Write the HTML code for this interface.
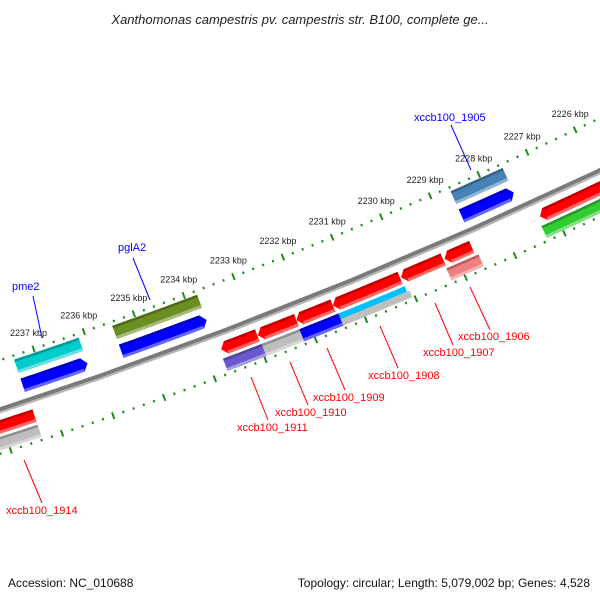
<!DOCTYPE html>
<html><head><meta charset="utf-8"><style>
html,body{margin:0;padding:0;background:#fff;}
svg{display:block;font-family:"Liberation Sans",sans-serif;}
</style></head><body>
<svg id="map" width="600" height="600" viewBox="0 0 600 600">
<rect width="600" height="600" fill="#fff"/>
<text x="300" y="24" text-anchor="middle" font-size="13" font-style="italic" fill="#222">Xanthomonas campestris pv. campestris str. B100, complete ge...</text>
<g id="ticks"></g>
<g id="backbone"></g>
<g id="features"></g>
<g id="labels"></g>
<text x="8" y="587" font-size="12" fill="#111">Accession: NC_010688</text>
<text x="590" y="587" text-anchor="end" font-size="12" fill="#111">Topology: circular; Length: 5,079,002 bp; Genes: 4,528</text>
</svg>
<script>
// ---- data ----
const tickKbp = [2222,2223,2224,2225,2226,2227,2228,2229,2230,2231,2232,2233,2234,2235,2236,2237,2238,2239,2240];
const labelKbp = [2226,2227,2228,2229,2230,2231,2232,2233,2234,2235,2236,2237];
const featStart = [2237.41,2237.41,2235.46,2235.46,2228.61,2228.61,2240.5,2240.5,2227.28,2227.33,2233.70,2233.73,2232.97,2232.96,2232.20,2232.21,2231.47,2231.43,2231.43,2230.10,2229.22,2229.26];
const featEnd   = [2236.13,2236.13,2233.76,2233.76,2227.54,2227.54,2237.38,2237.38,2221.5,2221.5,2232.98,2232.96,2232.20,2232.21,2231.47,2231.43,2230.12,2230.10,2230.05,2229.25,2228.67,2228.61];
const featRow   = ['A','B','A','B','A','B','C','D','C','D','C','D','C','D','C','D','C','Dt','Db','C','C','D'];
const featDir   = ['','R','','R','','R','L','','L','','L','','L','','L','','L','','','L','L',''];
const featColor = ['#00cccc','#0000ff','#6b8e23','#0000ff','#4682b4','#0000ff','#ff0000','#bebebe','#ff0000','#32cd32','#ff0000','#6a5acd','#ff0000','#bebebe','#ff0000','#0000ff','#ff0000','#00bfff','#bebebe','#ff0000','#ff0000','#f08080'];
const featName  = ['pme2','pme2-cds','pglA2','pglA2-cds','xccb100-1905','xccb100-1905-cds','xccb100-1914','xccb100-1914-cds','xccb100-1904','xccb100-1904-cds','xccb100-1911','xccb100-1911-cds','xccb100-1910','xccb100-1910-cds','xccb100-1909','xccb100-1909-cds','xccb100-1908','xccb100-1908-cds','xccb100-1908-cds2','xccb100-1907','xccb100-1906','xccb100-1906-cds'];
const labText  = ['pme2','pglA2','xccb100_1905','xccb100_1906','xccb100_1907','xccb100_1908','xccb100_1909','xccb100_1910','xccb100_1911','xccb100_1914'];
const labColor = ['#0000ff','#0000ff','#0000ff','#ff0000','#ff0000','#ff0000','#ff0000','#ff0000','#ff0000','#ff0000'];
// ---- geometry ----
const CX=-1567, CY=-4388;
const ROWS={A:[5004,5018],B:[5024,5038],C:[5057,5070],D:[5073,5086],Dt:[5073,5079],Db:[5079,5086]};
const R_UP=5000, R_LO=5089, R_BB=5048;
function ang(k){return (68.59+(k-2232.5)*0.609)*Math.PI/180;}
function pt(k,r){const a=ang(k);return [CX+r*Math.cos(a),CY+r*Math.sin(a)];}
const NS='http://www.w3.org/2000/svg';
function arc(k1,k2,r,n){const p=[];for(let i=0;i<=n;i++){const k=k1+(k2-k1)*i/n;p.push(pt(k,r));}return p;}
function band(k1,k2,r1,r2){const a=arc(k1,k2,r1,8),b=arc(k2,k1,r2,8);return a.concat(b);}
function poly(pts){return 'M'+pts.map(p=>p[0].toFixed(2)+','+p[1].toFixed(2)).join('L')+'Z';}
function shade(hex,f){const n=parseInt(hex.slice(1),16);let r=n>>16,g=(n>>8)&255,b=n&255;
 if(f<0){r=Math.round(r*(1+f));g=Math.round(g*(1+f));b=Math.round(b*(1+f));}
 else{r=Math.round(r+(255-r)*f);g=Math.round(g+(255-g)*f);b=Math.round(b+(255-b)*f);}
 return 'rgb('+r+','+g+','+b+')';}
const tg=document.getElementById('ticks');
// tick rings
[R_UP,R_LO].forEach(function(R,ri){
 for(let i=0;i<tickKbp.length;i++){
  const k=tickKbp[i];
  for(let m=0;m<5;m++){
   const kk=k-m*0.2;
   const len=m===0?3.5:1.2, w=m===0?2:2;
   const dk=w/2/53.6;
   const p=document.createElementNS(NS,'path');
   p.setAttribute('d',poly(band(kk+dk,kk-dk,R-len,R+len)));
   p.setAttribute('fill','#1e8a1e');
   
   
   tg.appendChild(p);
  }
 }
});
labelKbp.forEach(function(k){
 const p=pt(k,R_UP);
 const t=document.createElementNS(NS,'text');
 t.setAttribute('x',(p[0]-5).toFixed(1));t.setAttribute('y',(p[1]-13).toFixed(1));
 t.setAttribute('text-anchor','middle');t.setAttribute('font-size','9');t.setAttribute('fill','#222');
 t.textContent=k+' kbp';
 
 
 tg.appendChild(t);
});
// backbone
const bb=document.getElementById('backbone');
[[R_BB-3,R_BB+1,'#7a7a7a'],[R_BB+1,R_BB+3,'#b5b5b5']].forEach(function(s){
 const p=document.createElementNS(NS,'path');
 p.setAttribute('d',poly(band(2241,2221,s[0],s[1]).concat()));
 p.setAttribute('fill',s[2]);
 
 
 bb.appendChild(p);
});
// features
const fg=document.getElementById('features');
const TIP=0.1;
for(let i=0;i<featStart.length;i++){
 const r=ROWS[featRow[i]], r1=r[0], r2=r[1], col=featColor[i];
 let k1=featStart[i], k2=featEnd[i], b1=k1, b2=k2, pts;
 if(featDir[i]==='R'){b2=k2+TIP;const body=band(b1,b2,r1,r2);
  pts=arc(b1,b2,r1,8).concat([pt(k2,(r1+r2)/2)]).concat(arc(b2,b1,r2,8));}
 else if(featDir[i]==='L'){b1=k1-TIP;
  pts=[pt(k1,(r1+r2)/2)].concat(arc(b1,k2,r1,8)).concat(arc(k2,b1,r2,8));}
 else pts=band(k1,k2,r1,r2);
 const g=document.createElementNS(NS,'g');
 
 
 const m=document.createElementNS(NS,'path');
 m.setAttribute('d',poly(pts));m.setAttribute('fill',col);
 
 
 g.appendChild(m);
 const h=r2-r1;
 if(h>8){
  const top=document.createElementNS(NS,'path');
  top.setAttribute('d',poly(band(b1,b2,r1,r1+2.5)));top.setAttribute('fill',shade(col,-0.25));
  
  
  g.appendChild(top);
  const bot=document.createElementNS(NS,'path');
  bot.setAttribute('d',poly(band(b1,b2,r2-3,r2)));bot.setAttribute('fill',shade(col,0.4));
  
  
  g.appendChild(bot);
 }
 fg.appendChild(g);
}
// labels
const labX=[12,118,414,458,423,368,313,275,237,6];
const labY=[290,251,121,340,356,379,401,416,431,514];
const lineSeg=[[33,296,42,338],[133,258,150,300],[451,125,471,170],[490,330,470,287],[453,345,435,303],[398,368,380,326],[345,390,327,348],[308,405,290,362],[268,420,251,377],[42,503,24,460]];
const lg=document.getElementById('labels');
for(let i=0;i<labText.length;i++){
 const s=lineSeg[i];
 const l=document.createElementNS(NS,'line');
 l.setAttribute('x1',s[0]);l.setAttribute('y1',s[1]);l.setAttribute('x2',s[2]);l.setAttribute('y2',s[3]);
 l.setAttribute('stroke',labColor[i]);l.setAttribute('stroke-width','1');
 
 
 lg.appendChild(l);
 const t=document.createElementNS(NS,'text');
 t.setAttribute('x',labX[i]);t.setAttribute('y',labY[i]);
 t.setAttribute('font-size','11');t.setAttribute('fill',labColor[i]);
 t.textContent=labText[i];
 
 
 lg.appendChild(t);
}
</script>
</body></html>
